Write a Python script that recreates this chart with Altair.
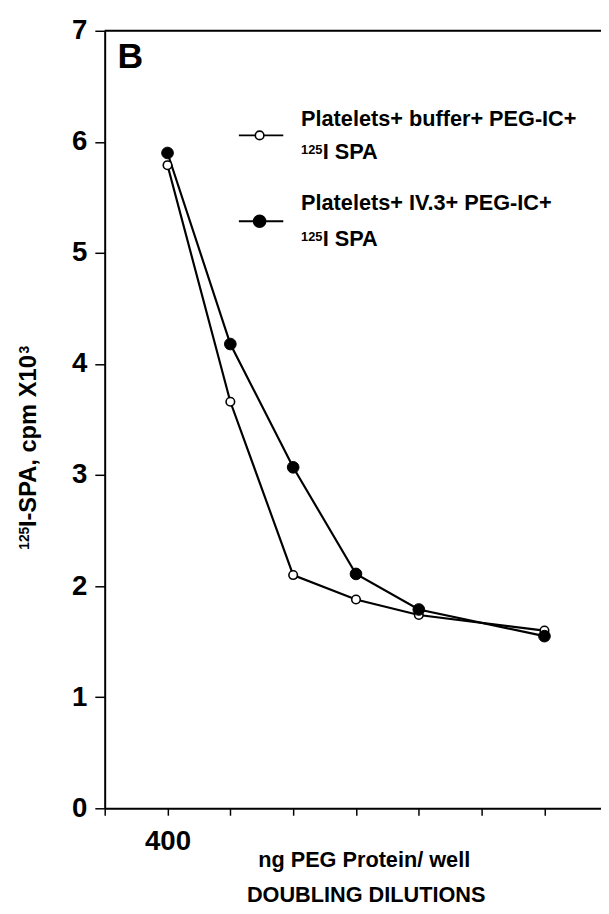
import altair as alt
import pandas as pd

# ---- data ----
dilution_step = [1, 2, 3, 4, 5, 7]          # doubling-dilution index (1 = 400 ng)
buffer_vals = [5.79, 3.66, 2.10, 1.88, 1.74, 1.60]   # open circles
iv3_vals = [5.90, 4.18, 3.07, 2.11, 1.79, 1.55]      # filled circles
series = ["buffer", "iv3"]
legend_line1 = ["Platelets+ buffer+ PEG-IC+", "Platelets+ IV.3+ PEG-IC+"]
legend_sup = "125"
legend_line2 = "I SPA"
x_ticks = [0, 1, 2, 3, 4, 5, 6, 7]
x_tick_labels = {1: "400"}
y_ticks = [0, 1, 2, 3, 4, 5, 6, 7]
x_title_1 = "ng PEG Protein/ well"
x_title_2 = "DOUBLING DILUTIONS"
y_title_sup1, y_title_main, y_title_sup2 = "125", "I-SPA, cpm X10", "3"
panel_letter = "B"

FONT = "Liberation Sans"
W, H = 503, 788
X_MAX = 7.9

df = pd.DataFrame({
    "step": dilution_step * 2,
    "value": buffer_vals + iv3_vals,
    "series": [series[0]] * len(buffer_vals) + [series[1]] * len(iv3_vals),
})

label_expr = " : ".join(
    [f"datum.value == {k} ? '{v}'" for k, v in x_tick_labels.items()] + ["''"]
)

x_enc = alt.X(
    "step:Q",
    scale=alt.Scale(domain=[0, X_MAX], nice=False, zero=False),
    axis=alt.Axis(values=x_ticks, labelExpr=label_expr, title=None, grid=False,
                  tickSize=7, tickWidth=1.5, tickColor="black",
                  domainWidth=2, domainColor="black",
                  labelFont=FONT, labelFontSize=28, labelFontWeight="bold",
                  labelColor="black", labelPadding=13, labelFlush=False),
)
y_enc = alt.Y(
    "value:Q",
    scale=alt.Scale(domain=[0, 7], nice=False),
    axis=alt.Axis(values=y_ticks, format="d", title=None, grid=False,
                  tickSize=10, tickWidth=1.5, tickColor="black",
                  domainWidth=2, domainColor="black",
                  labelFont=FONT, labelFontSize=28, labelFontWeight="bold",
                  labelColor="black", labelPadding=8),
)

base = alt.Chart(df)

lines = base.mark_line(color="black", strokeWidth=2.2).encode(
    x=x_enc, y=y_enc, detail="series:N"
)
open_pts = base.transform_filter(alt.datum.series == series[0]).mark_point(
    shape="circle", filled=True, fill="white", stroke="black", strokeWidth=1.6,
    size=75, opacity=1
).encode(x="step:Q", y="value:Q")
filled_pts = base.transform_filter(alt.datum.series == series[1]).mark_point(
    shape="circle", filled=True, fill="black", stroke="black", strokeWidth=1,
    size=140, opacity=1
).encode(x="step:Q", y="value:Q")

one = pd.DataFrame({"k": [0]})


def txt(text, px, py, size, angle=0, align="left"):
    return alt.Chart(pd.DataFrame({"t": [text]})).mark_text(
        font=FONT, fontSize=size, fontWeight="bold", color="black",
        align=align, baseline="alphabetic", angle=angle
    ).encode(x=alt.value(px), y=alt.value(py), text="t:N")


top_rule = alt.Chart(one).mark_rule(color="black", strokeWidth=2).encode(
    x=alt.value(0), x2=alt.value(W), y=alt.value(0)
)

layers = [lines, open_pts, filled_pts, top_rule]

# legend (drawn by hand to reproduce the two-line labels with superscripts)
sym_y = [106, 193]
line1_y = [96, 182]
line2_y = [130, 218]
for i in range(2):
    layers.append(alt.Chart(one).mark_rule(color="black", strokeWidth=2).encode(
        x=alt.value(136), x2=alt.value(181), y=alt.value(sym_y[i])))
    if i == 0:
        layers.append(alt.Chart(one).mark_point(
            shape="circle", filled=True, fill="white", stroke="black",
            strokeWidth=1.6, size=75, opacity=1
        ).encode(x=alt.value(157), y=alt.value(sym_y[i])))
    else:
        layers.append(alt.Chart(one).mark_point(
            shape="circle", filled=True, fill="black", stroke="black",
            size=140, opacity=1
        ).encode(x=alt.value(157), y=alt.value(sym_y[i])))
    layers.append(txt(legend_line1[i], 199, line1_y[i], 22))
    layers.append(txt(legend_sup, 199, line2_y[i] - 5, 13))
    layers.append(txt(legend_line2, 221, line2_y[i], 22))

# panel letter
layers.append(txt(panel_letter, 13, 38, 36))

# x titles
layers.append(txt(x_title_1, 263, 847, 22, align="center"))
layers.append(txt(x_title_2, 265, 883, 22, align="center"))

# y title (rotated, with superscripts)
y_start = 526
layers.append(txt(y_title_sup1, -77, y_start, 14, angle=270))
layers.append(txt(y_title_main, -70, y_start - 23, 24, angle=270))
layers.append(txt(y_title_sup2, -77, y_start - 23 - 176, 14, angle=270))

chart = alt.layer(*layers).properties(
    width=W, height=H,
    autosize=alt.AutoSizeParams(type="none"),
    padding={"left": 98, "top": 17, "right": 0, "bottom": 100},
).configure_view(stroke=None).configure(background="white")

chart.save("out.html", embed_options={"renderer": "svg", "actions": False})
